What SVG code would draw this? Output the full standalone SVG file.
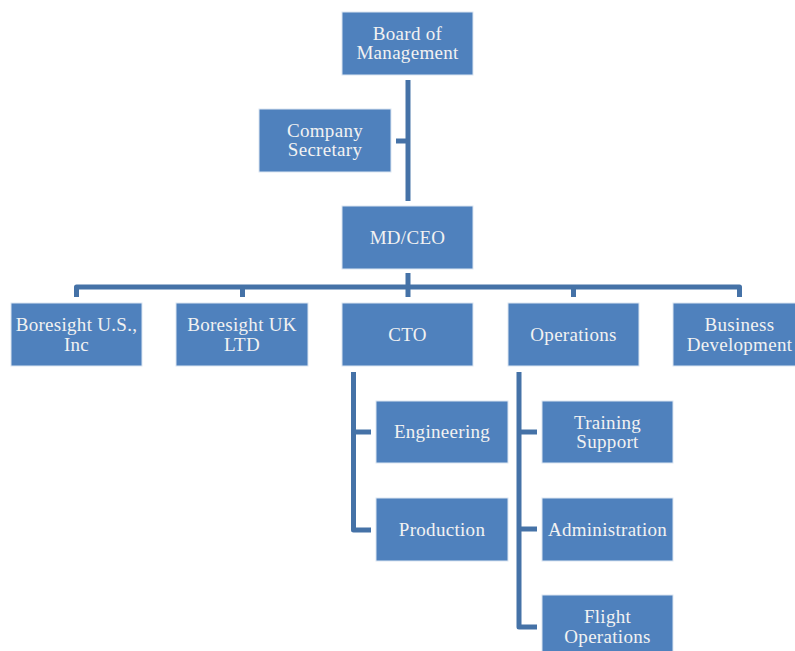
<svg xmlns="http://www.w3.org/2000/svg" width="795" height="651" viewBox="0 0 795 651">
<style>
.box{fill:#4F81BD;stroke:#DCE6F2;stroke-width:1}
.t{font-family:"Liberation Serif","DejaVu Serif",serif;font-size:19px;letter-spacing:0.3px;fill:#F2F2F2;text-anchor:middle}
.c{fill:none;stroke:#4572A7;stroke-width:5;stroke-linejoin:round}
</style>
<rect width="795" height="651" fill="#FFFFFF"/>
<g id="connectors">
<path class="c" d="M408,80 V201"/>
<path class="c" d="M396,141 H408"/>
<path class="c" d="M408,273 V287"/>
<path class="c" d="M76.5,297 V287 H739.5 V297"/>
<path class="c" d="M242.5,287 V297"/>
<path class="c" d="M408,287 V297"/>
<path class="c" d="M573.5,287 V297"/>
<path class="c" d="M353.5,372 V530 H371"/>
<path class="c" d="M353.5,432 H371"/>
<path class="c" d="M519,372 V627 H537"/>
<path class="c" d="M519,432 H537"/>
<path class="c" d="M519,529 H537"/>
</g>
<g id="board"><rect class="box" x="342" y="12" width="131" height="63"/><text class="t" x="407.5" y="40">Board of</text><text class="t" x="407.5" y="59">Management</text></g>
<g id="secretary"><rect class="box" x="259" y="109" width="132" height="63"/><text class="t" x="325" y="137">Company</text><text class="t" x="325" y="156">Secretary</text></g>
<g id="mdceo"><rect class="box" x="342" y="206" width="131" height="63"/><text class="t" x="407.5" y="244">MD/CEO</text></g>
<g id="boresight-us"><rect class="box" x="11" y="303" width="131" height="63"/><text class="t" x="76.5" y="331">Boresight U.S.,</text><text class="t" x="76.5" y="351">Inc</text></g>
<g id="boresight-uk"><rect class="box" x="176" y="303" width="132" height="63"/><text class="t" x="242" y="331">Boresight UK</text><text class="t" x="242" y="351">LTD</text></g>
<g id="cto"><rect class="box" x="342" y="303" width="131" height="63"/><text class="t" x="407.5" y="341">CTO</text></g>
<g id="operations"><rect class="box" x="508" y="303" width="131" height="63"/><text class="t" x="573.5" y="341">Operations</text></g>
<g id="business-dev"><rect class="box" x="673" y="303" width="131" height="63"/><text class="t" x="739.5" y="331">Business</text><text class="t" x="739.5" y="351">Development</text></g>
<g id="engineering"><rect class="box" x="376" y="401" width="132" height="62"/><text class="t" x="442" y="438">Engineering</text></g>
<g id="production"><rect class="box" x="376" y="498" width="132" height="63"/><text class="t" x="442" y="536">Production</text></g>
<g id="training"><rect class="box" x="542" y="401" width="131" height="62"/><text class="t" x="607.5" y="429">Training</text><text class="t" x="607.5" y="448">Support</text></g>
<g id="administration"><rect class="box" x="542" y="498" width="131" height="63"/><text class="t" x="607.5" y="536">Administration</text></g>
<g id="flight-ops"><rect class="box" x="542" y="595" width="131" height="63"/><text class="t" x="607.5" y="623">Flight</text><text class="t" x="607.5" y="643">Operations</text></g>
</svg>
